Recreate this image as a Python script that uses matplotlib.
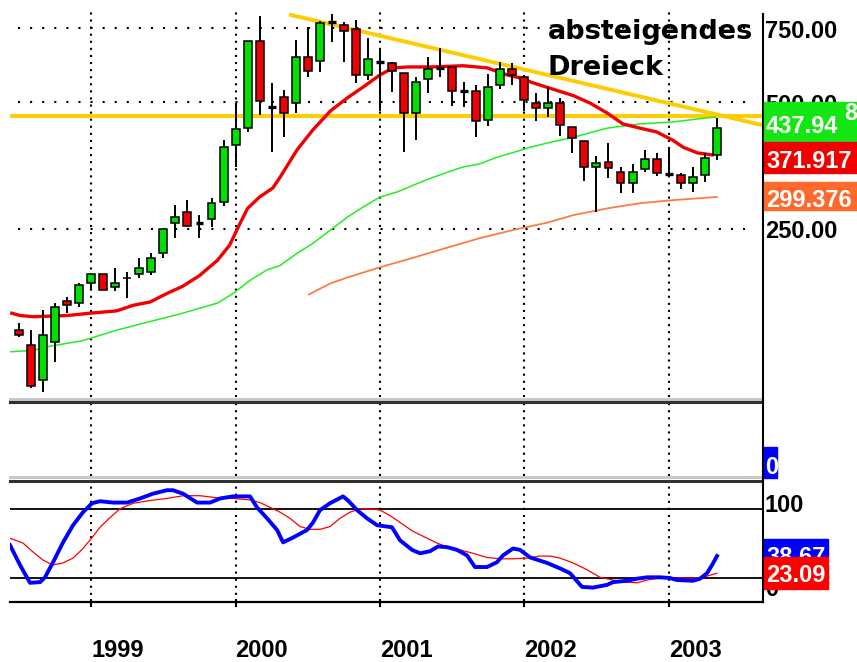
import matplotlib
matplotlib.use("Agg")
import matplotlib.pyplot as plt
import matplotlib.transforms as mtransforms
from matplotlib import font_manager
from matplotlib.lines import Line2D
from matplotlib.patches import Rectangle


######################
# Data (monthly candles, index 0 = Jul 1998)
######################

opens = [144, 133, 110, 135, 169, 167, 186, 196, 182, 191, 196, 198, 220, 258, 275,
         259, 264, 290, 396, 434, 698, 487, 515, 497, 640, 627, 775, 762, 746, 580,
         624, 619, 587, 471, 567, 603, 606, 531, 531, 454, 550, 599, 574, 497, 484,
         497, 436, 404, 351, 361, 341, 321, 347, 366, 337, 336, 321, 336, 375]
highs = [150, 144, 161, 167, 173, 186, 196, 196, 202, 198, 213, 220, 250, 285, 293,
         270, 296, 407, 497, 698, 801, 555, 534, 702, 754, 780, 808, 775, 784, 710,
         665, 624, 587, 574, 640, 672, 606, 559, 550, 584, 622, 619, 580, 525, 543,
         512, 436, 404, 372, 400, 351, 357, 385, 379, 391, 339, 351, 379, 459]
lows = [139, 105, 103, 121, 158, 163, 179, 179, 178, 172, 191, 195, 214, 238, 254,
        238, 253, 284, 351, 425, 467, 381, 413, 471, 574, 590, 694, 624, 556, 563,
        477, 528, 381, 407, 525, 574, 491, 487, 413, 439, 537, 550, 477, 450, 462,
        416, 379, 326, 274, 330, 304, 304, 341, 334, 334, 311, 306, 323, 365]
closes = [140, 106, 140, 163, 165, 184, 196, 179, 186, 192, 202, 214, 250, 267, 254,
          259, 288, 391, 432, 698, 504, 487, 471, 640, 593, 771, 775, 738, 580, 634,
          624, 593, 471, 558, 599, 603, 531, 531, 452, 543, 599, 580, 507, 484, 497,
          441, 411, 351, 359, 349, 321, 341, 366, 339, 337, 321, 332, 368, 434]

# moving averages (month index, price)
ma_red_x = [-0.6, 0.1, 1.2, 4.0, 5.9, 8.1, 9.5, 10.9, 12.3, 13.6, 15.0, 16.5, 17.5,
            18.4, 19.0, 20.0, 21.1, 21.7, 23.1, 24.4, 25.9, 27.3, 28.6, 30.0, 31.1,
            32.3, 34.2, 36.9, 38.9, 40.6, 41.6, 42.7, 44.1, 46.1, 47.5, 48.9, 50.2,
            51.6, 53.0, 54.3, 55.2, 56.4, 57.6]
ma_red_y = [158, 156, 155, 156, 158, 160, 165, 168, 176, 183, 194, 211, 229,
            259, 280, 298, 313, 332, 385, 429, 477, 512, 543, 580, 603,
            606, 606, 610, 603, 580, 571, 556, 540, 518, 497, 471, 444,
            434, 425, 407, 391, 379, 375]

ma_green_x = [-0.75, 1.2, 2.6, 5.3, 8.1, 10.9, 13.6, 16.5, 17.8, 19.2, 20.6, 21.7,
              23.1, 24.4, 25.9, 27.3, 28.6, 30.0, 31.4, 32.8, 34.2, 35.6, 36.9,
              38.3, 39.7, 41.1, 42.5, 43.9, 46.1, 48.9, 51.6, 54.4, 57.2, 57.9]
ma_green_y = [128, 129, 132, 136, 144, 151, 158, 167, 176, 189, 200, 205,
              219, 231, 249, 267, 282, 298, 306, 318, 330, 341, 351,
              357, 370, 380, 391, 400, 413, 434, 444, 449, 459, 461]

ma_orange_x = [24.1, 25.9, 27.3, 30.0, 32.8, 35.6, 38.3, 41.1, 43.9, 46.1, 48.9,
               51.6, 54.4, 58.0]
ma_orange_y = [175, 186, 192, 203, 214, 226, 238, 249, 259, 270, 280,
               288, 293, 298]

# triangle lines (month index, price)
support_level = 464
resist_x = [22.6, 61.8]
resist_y = [805, 441]

# oscillator (month index, value)
osc_blue_x = [-0.75, 0.08, 0.91, 1.75, 2.16, 2.83, 3.66, 4.49, 5.32, 6.07, 6.73,
              7.81, 8.98, 10.06, 11.14, 12.3, 12.8, 13.63, 14.8, 15.88, 16.71,
              17.79, 19.2, 19.78, 20.62, 21.45, 21.95, 22.78, 23.94, 24.44, 25.02,
              25.85, 26.93, 27.35, 28.1, 28.93, 29.76, 31.0, 31.67, 32.67, 33.33,
              34.16, 34.83, 35.58, 36.41, 37.24, 37.9, 38.9, 39.73, 40.23, 41.06,
              41.65, 42.48, 43.89, 44.97, 45.8, 46.8, 47.71, 48.88, 49.38, 50.54,
              51.37, 52.2, 53.28, 54.11, 54.7, 56.03, 56.61, 57.19, 57.61, 58.02]
osc_blue_y = [48, 19, -7, -6, 1, 23, 52, 77, 96, 109, 112,
              110, 110, 116, 123, 128, 128, 123, 110, 110, 116,
              119, 119, 103, 87, 70, 52, 59, 70, 81, 99,
              109, 119, 113, 99, 87, 77, 74, 55, 41, 36,
              39, 46, 45, 41, 33, 16, 16, 23, 33, 43,
              41, 30, 22, 14, 7, -13, -14, -10, -6, -4,
              -1, 1, 1, 0, -3, -4, -1, 7, 19, 32]
osc_red_x = [-0.75, 0.33, 1.16, 2.0, 2.83, 3.66, 4.49, 5.32, 6.07, 6.73, 7.56, 8.4,
             9.48, 10.89, 12.3, 13.63, 15.05, 16.46, 17.79, 19.2, 20.03, 20.86,
             21.7, 22.53, 23.36, 24.19, 25.02, 25.85, 26.68, 27.51, 28.35, 29.18,
             30.01, 30.84, 31.67, 32.75, 33.92, 34.75, 35.58, 36.66, 37.74, 38.9,
             39.98, 41.06, 42.23, 43.31, 44.14, 44.97, 46.05, 47.22, 48.3, 49.38,
             50.54, 51.37, 52.2, 53.28, 54.95, 56.03, 56.86, 58.02]
osc_red_y = [58, 51, 38, 26, 19, 22, 29, 43, 59, 74, 88, 101,
             109, 113, 116, 120, 120, 117, 116, 114, 110, 103,
             96, 87, 75, 71, 71, 75, 87, 96, 101, 101,
             99, 91, 81, 68, 58, 51, 45, 41, 36, 30,
             28, 28, 29, 32, 32, 29, 22, 12, 1, -3,
             -6, -7, -3, 0, 0, 0, 1, 7]

year_pos = [6, 18, 30, 42, 54]
year_labels = ["1999", "2000", "2001", "2002", "2003"]
price_grid = [250, 500, 750]
osc_levels = [0, 100]

last_labels = [("437.94", "#14E614"), ("371.917", "#F20000"), ("299.376", "#FF6A2C")]
osc_labels = [("38.67", "#0000FF"), ("23.09", "#FF0000")]

######################
# Styling
######################

W, H = 857, 662
C_UP = "#00E000"
C_DN = "#F00000"

names = {f.name for f in font_manager.fontManager.ttflist}
if "Liberation Sans Narrow" in names:
    NUM_FONT, NUM_SIZE = "Liberation Sans Narrow", 19.5
else:
    NUM_FONT, NUM_SIZE = "Liberation Sans", 17


def box(l, t, r, b):
    return [l / W, 1 - b / H, (r - l) / W, (b - t) / H]


def fx(px):
    return px / W


def fy(py):
    return 1 - py / H


def main():
    fig = plt.figure(figsize=(W / 100, H / 100), dpi=100)
    fig.patch.set_facecolor("white")

    ax = fig.add_axes(box(10, 12, 762, 397))
    ax_mid = fig.add_axes(box(10, 404, 762, 476))
    ax_osc = fig.add_axes(box(10, 482, 762, 602))

    ax.set_yscale("log")
    ax.set_ylim(100, 818)
    ax_osc.set_ylim(-35, 140)
    ax_mid.set_ylim(0, 1)
    for a in (ax, ax_mid, ax_osc):
        a.set_xlim(-0.75, 61.76)
        a.set_xticks([])
        a.set_yticks([])
        a.set_yticks([], minor=True)
        for s in a.spines.values():
            s.set_visible(False)
        # vertical dotted year grid
        for xp in year_pos:
            a.axvline(xp, color="black", lw=1.5, ls=(0, (1, 2.4)), zorder=0.5)

    # horizontal dotted price grid
    for p in price_grid:
        ax.axhline(p, xmin=0.01, xmax=0.98, color="black", lw=1.5,
                   ls=(0, (1, 4.8)), zorder=0.5)

    # triangle lines
    ax.axhline(support_level, color="#FFCC00", lw=2.8, zorder=1)
    ax.plot(resist_x, resist_y, color="#FFCC00", lw=2.8, zorder=1)

    # moving averages
    ax.plot(ma_orange_x, ma_orange_y, color="#FF7B45", lw=1.3, zorder=2)
    ax.plot(ma_green_x, ma_green_y, color="#22EE22", lw=1.1, zorder=2)
    ax.plot(ma_red_x, ma_red_y, color="#F00000", lw=2.4, zorder=2)

    # candles
    xs = list(range(len(opens)))
    ax.vlines(xs, lows, highs, color="black", lw=1.4, zorder=3)
    for i in xs:
        o, c = opens[i], closes[i]
        if o == c:
            ax.hlines(o, i - 0.33, i + 0.33, color="black", lw=2.4, zorder=4)
        else:
            col = C_UP if c > o else C_DN
            ax.bar(i, abs(c - o), bottom=min(o, c), width=0.66, color=col,
                   edgecolor="black", lw=1.1, zorder=4)

    # oscillator
    for lv in osc_levels:
        ax_osc.axhline(lv, color="black", lw=1.3, zorder=1)
    ax_osc.plot(osc_red_x, osc_red_y, color="#FF0000", lw=0.9, zorder=2)
    ax_osc.plot(osc_blue_x, osc_blue_y, color="#0000FF", lw=2.8, zorder=3)

    # panel separators
    for yy, col in ((398.5, "#C8C8C8"), (402.0, "#303030"),
                    (477.0, "#C8C8C8"), (480.5, "#303030")):
        fig.add_artist(Line2D([fx(10), fx(762)], [fy(yy)] * 2, color=col, lw=2.2))
    fig.add_artist(Line2D([fx(10), fx(763)], [fy(602)] * 2, color="black", lw=1.6))
    fig.add_artist(Line2D([fx(762.5)] * 2, [fy(14), fy(602)], color="black", lw=1.5))
    tr = mtransforms.blended_transform_factory(ax_osc.transData, fig.transFigure)
    for xp in year_pos:
        ax_osc.plot([xp, xp], [fy(600), fy(606)], color="black", lw=1.5,
                    transform=tr, clip_on=False)

    # year labels
    for xp, lab in zip(year_pos, year_labels):
        ax_osc.text(xp, fy(657), lab, transform=tr, ha="left", va="baseline",
                    fontsize=NUM_SIZE, fontweight="bold", family=NUM_FONT)

    # price axis labels
    tk = dict(fontsize=NUM_SIZE, fontweight="bold", family=NUM_FONT, va="baseline",
              ha="left")
    fig.text(fx(765), fy(38), "750.00", **tk)
    fig.text(fx(765), fy(112), "500.00", zorder=0, **tk)
    fig.text(fx(765), fy(238), "250.00", **tk)

    # last value boxes on price axis
    tops = [102, 142, 182]
    bots = [142, 173, 210]
    bases = [133, 168, 207]
    for (txt, col), t, b, bl in zip(last_labels, tops, bots, bases):
        fig.add_artist(Rectangle((fx(764), fy(b)), fx(857) - fx(764), fy(t) - fy(b),
                                 transform=fig.transFigure, color=col, zorder=5))
        fig.text(fx(766), fy(bl), txt, color="white", zorder=6, **tk)
    fig.text(fx(844), fy(120), "8", color="white", zorder=6, **tk)

    # middle panel value box
    fig.add_artist(Rectangle((fx(764), fy(478)), fx(777) - fx(764), fy(447) - fy(478),
                             transform=fig.transFigure, color="#0000FF", zorder=5))
    fig.text(fx(765), fy(474), "0", color="white", zorder=6, **tk)

    # oscillator labels
    fig.text(fx(765), fy(512), "100", **tk)
    fig.text(fx(765), fy(596), "0", zorder=0, **tk)
    for (txt, col), t, b, bl in zip(osc_labels, (539, 557), (557, 589), (564, 582)):
        fig.add_artist(Rectangle((fx(764), fy(b)), fx(828) - fx(764), fy(t) - fy(b),
                                 transform=fig.transFigure, color=col, zorder=5 + (t > 540)))
        fig.text(fx(766), fy(bl), txt, color="white", zorder=5.5 + (t > 540), **tk)

    # annotation
    fig.text(fx(548), fy(39), "absteigendes", fontsize=19.5, fontweight="bold",
             family="DejaVu Sans", va="baseline")
    fig.text(fx(548), fy(75), "Dreieck", fontsize=19.5, fontweight="bold",
             family="DejaVu Sans", va="baseline")

    fig.savefig("out.png", dpi=100, facecolor="white")


if __name__ == "__main__":
    main()
